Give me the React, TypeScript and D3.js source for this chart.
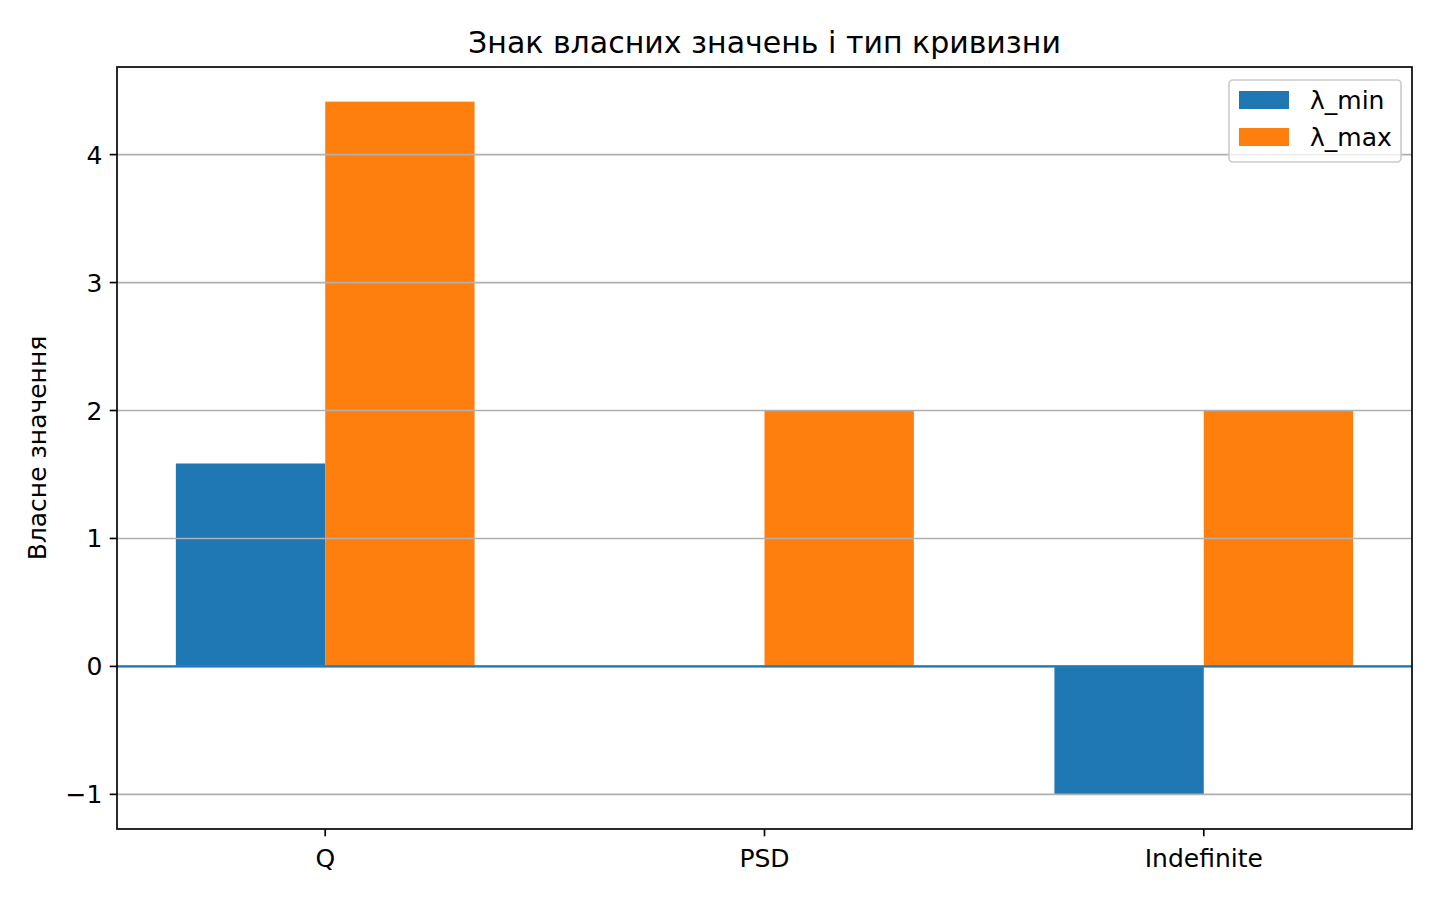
import React from "react";
import * as d3 from "d3";

const categories = ["Q", "PSD", "Indefinite"];
const lambdaMin = [1.586, 0, -1];
const lambdaMax = [4.414, 2, 2];
const seriesNames = ["λ_min", "λ_max"];
const seriesColors = ["#1f77b4", "#ff7f0e"];
const yTicks = [-1, 0, 1, 2, 3, 4];

const W = 1440;
const H = 900;
const left = 117;
const right = 1412;
const top = 67;
const bottom = 829;
const barW = 0.34;
const FONT = "DejaVu Sans, sans-serif";
const fs = 25;

export default function App() {
  const idx = categories.map((_, i) => i);
  const allVals = [...lambdaMin, ...lambdaMax, 0];
  const yMin = d3.min(allVals)!;
  const yMax = d3.max(allVals)!;
  const yPad = (yMax - yMin) * 0.05;
  const y = d3.scaleLinear().domain([yMin - yPad, yMax + yPad]).range([bottom, top]);
  const xLo = -barW;
  const xHi = categories.length - 1 + barW;
  const xPad = (xHi - xLo) * 0.05;
  const x = d3.scaleLinear().domain([xLo - xPad, xHi + xPad]).range([left, right]);

  const series = [lambdaMin, lambdaMax];
  const fmt = (v: number) => (v < 0 ? "\u2212" + Math.abs(v) : String(v));

  return (
    <svg width={W} height={H} style={{ display: "block", position: "absolute", left: 0, top: 0 }} fontFamily={FONT}>
      <rect x={0} y={0} width={W} height={H} fill="#fff" />
      {/* bars */}
      {series.map((vals, s) =>
        idx.map((i) => {
          const v = vals[i];
          const x0 = s === 0 ? x(i - barW) : x(i);
          const x1 = s === 0 ? x(i) : x(i + barW);
          const y0 = y(Math.max(0, v));
          const y1 = y(Math.min(0, v));
          return (
            <rect key={`${s}-${i}`} x={x0} y={y0} width={x1 - x0} height={y1 - y0} fill={seriesColors[s]} />
          );
        })
      )}
      {/* grid */}
      {yTicks.map((t) => (
        <line key={t} x1={left} x2={right} y1={y(t)} y2={y(t)} stroke="#b0b0b0" strokeWidth={1.67} />
      ))}
      {/* zero line */}
      <line x1={left} x2={right} y1={y(0)} y2={y(0)} stroke="#1f77b4" strokeWidth={2.08} />
      {/* spines */}
      <rect x={left} y={top} width={right - left} height={bottom - top} fill="none" stroke="#000" strokeWidth={1.67} />
      {/* y ticks */}
      {yTicks.map((t) => (
        <g key={t}>
          <line x1={left - 7.3} x2={left} y1={y(t)} y2={y(t)} stroke="#000" strokeWidth={1.67} />
          <text x={left - 14.6} y={y(t) + 9} textAnchor="end" fontSize={fs} fill="#000">
            {fmt(t)}
          </text>
        </g>
      ))}
      {/* x ticks */}
      {categories.map((c, i) => (
        <g key={c}>
          <line x1={x(i)} x2={x(i)} y1={bottom} y2={bottom + 7.3} stroke="#000" strokeWidth={1.67} />
          <text x={x(i)} y={bottom + 38} textAnchor="middle" fontSize={fs} fill="#000">
            {c}
          </text>
        </g>
      ))}
      {/* y label */}
      <text
        transform={`translate(46, ${(top + bottom) / 2}) rotate(-90)`}
        textAnchor="middle"
        fontSize={fs}
        fill="#000"
      >
        Власне значення
      </text>
      {/* title */}
      <text x={(left + right) / 2} y={53} textAnchor="middle" fontSize={30} fill="#000">
        Знак власних значень і тип кривизни
      </text>
      {/* legend */}
      <rect x={1229} y={80} width={172} height={82} rx={4} fill="#fff" fillOpacity={0.8} stroke="#cccccc" strokeWidth={1.67} />
      {seriesNames.map((n, s) => (
        <g key={n}>
          <rect x={1239} y={91 + s * 37} width={50} height={18} fill={seriesColors[s]} />
          <text x={1310} y={109 + s * 37} fontSize={fs} fill="#000">
            {n}
          </text>
        </g>
      ))}
    </svg>
  );
}
